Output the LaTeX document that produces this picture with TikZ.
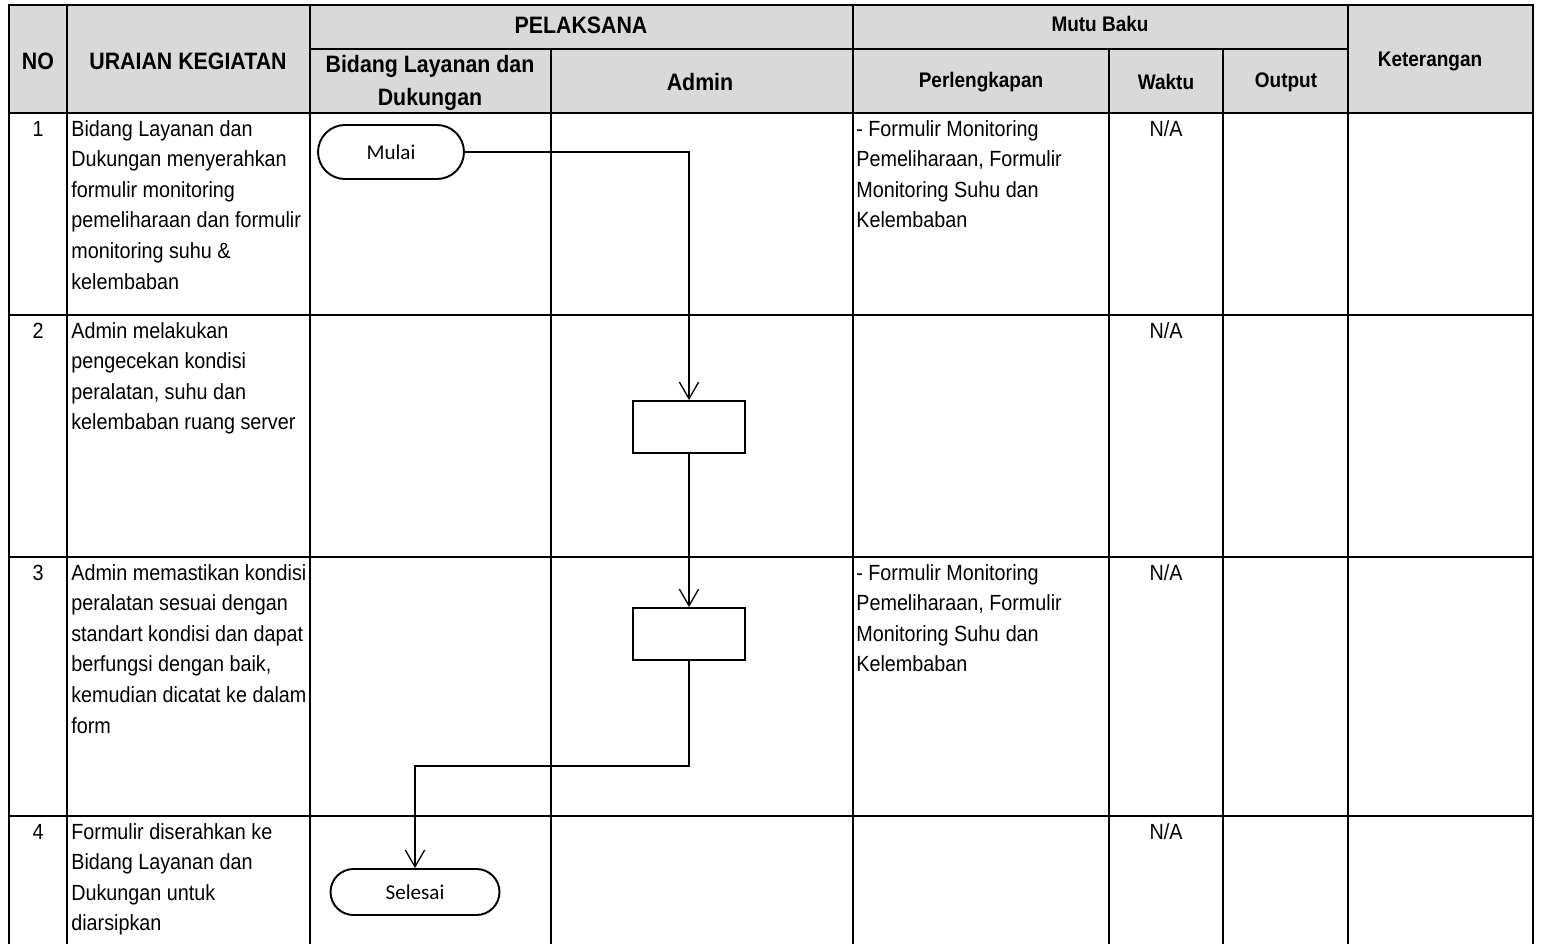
\documentclass[tikz,border=0pt]{standalone}
\usepackage{fontspec}
\setmainfont{Liberation Sans}[FakeStretch=0.9]
\newfontfamily\calfont{Carlito}
\usetikzlibrary{arrows.meta}

\begin{document}
\begin{tikzpicture}[x=0.02cm, y=-0.02cm,
    grid/.style={line width=1.6pt, line cap=rect},
    head/.style={font=\bfseries\fontsize{13.5}{18.5}\selectfont, align=center, inner sep=0pt},
    subhead/.style={font=\bfseries\fontsize{12}{14}\selectfont, inner sep=0pt},
    cell/.style={anchor=north west, inner sep=0pt, align=left, font=\fontsize{12.5}{17.4}\selectfont},
    num/.style={anchor=north, inner sep=0pt, font=\fontsize{12.5}{17.4}\selectfont},
    terminal/.style={draw, line width=1.1pt, font=\calfont\fontsize{12}{14}\selectfont},
    process/.style={draw, line width=1.1pt, minimum width=2.24cm, minimum height=1.04cm},
    flow/.style={line width=0.75pt, -{Straight Barb[length=9.5pt, width=11pt]}}]
    \useasboundingbox (0,0) rectangle (1544,943);

    \fill[gray!30] (9,5) rectangle (1533,113);

    \draw[grid] (9,943) -- (9,5) -- (1533,5) -- (1533,943);
    \draw[grid] (67,5) -- (67,943);
    \draw[grid] (310,5) -- (310,943);
    \draw[grid] (853,5) -- (853,943);
    \draw[grid] (1348,5) -- (1348,943);
    \draw[grid] (551,49) -- (551,943);
    \draw[grid] (1109,49) -- (1109,943);
    \draw[grid] (1223,49) -- (1223,943);
    \draw[grid] (310,49) -- (1348,49);
    \draw[grid] (9,113) -- (1533,113);
    \draw[grid] (9,315) -- (1533,315);
    \draw[grid] (9,557) -- (1533,557);
    \draw[grid] (9,816) -- (1533,816);

    \node[head] (no) at (38,61) {NO};
    \node[head] (uraian) at (188,61) {URAIAN KEGIATAN};
    \node[head] (pelaksana) at (581,25) {PELAKSANA};
    \node[head] (bidang) at (430,83) {Bidang Layanan dan\\Dukungan};
    \node[head] (admin) at (700,82) {Admin};
    \node[subhead] (mutu) at (1100,24) {Mutu Baku};
    \node[subhead] (perlengkapan) at (981,82) {Perlengkapan};
    \node[subhead] (waktu) at (1166,82) {Waktu};
    \node[subhead] (output) at (1286,82) {Output};
    \node[subhead] (keterangan) at (1430,61) {Keterangan};

    \node[num] (no1) at (38,114.5) {\strut 1};
    \node[num] (no2) at (38,316.5) {\strut 2};
    \node[num] (no3) at (38,558.5) {\strut 3};
    \node[num] (no4) at (38,817.5) {\strut 4};

    \node[cell] (keg1) at (71,114.5) {\strut Bidang Layanan dan\\Dukungan menyerahkan\\formulir monitoring\\pemeliharaan dan formulir\\monitoring suhu \&\\kelembaban};
    \node[cell] (keg2) at (71,316.5) {\strut Admin melakukan\\pengecekan kondisi\\peralatan, suhu dan\\kelembaban ruang server};
    \node[cell] (keg3) at (71,558.5) {\strut Admin memastikan kondisi\\peralatan sesuai dengan\\standart kondisi dan dapat\\berfungsi dengan baik,\\kemudian dicatat ke dalam\\form};
    \node[cell] (keg4) at (71,817.5) {\strut Formulir diserahkan ke\\Bidang Layanan dan\\Dukungan untuk\\diarsipkan};

    \node[cell] (alat1) at (856,114.5) {\strut - Formulir Monitoring\\Pemeliharaan, Formulir\\Monitoring Suhu dan\\Kelembaban};
    \node[cell] (alat3) at (856,558.5) {\strut - Formulir Monitoring\\Pemeliharaan, Formulir\\Monitoring Suhu dan\\Kelembaban};

    \node[num] (waktu1) at (1166,114.5) {\strut N/A};
    \node[num] (waktu2) at (1166,316.5) {\strut N/A};
    \node[num] (waktu3) at (1166,558.5) {\strut N/A};
    \node[num] (waktu4) at (1166,817.5) {\strut N/A};

    \node[terminal, minimum width=2.92cm, minimum height=1.08cm, rounded corners=0.54cm] (mulai) at (391,152) {Mulai};
    \node[process] (cek) at (689,427) {};
    \node[process] (catat) at (689,634) {};
    \node[terminal, minimum width=3.38cm, minimum height=0.92cm, rounded corners=0.46cm] (selesai) at (415,892) {Selesai};

    \draw[flow] (mulai.east) -| (cek.north);
    \draw[flow] (cek) -- (catat);
    \draw[flow] (catat.south) -- ++(0,105) -| (selesai.north);
\end{tikzpicture}
\end{document}
